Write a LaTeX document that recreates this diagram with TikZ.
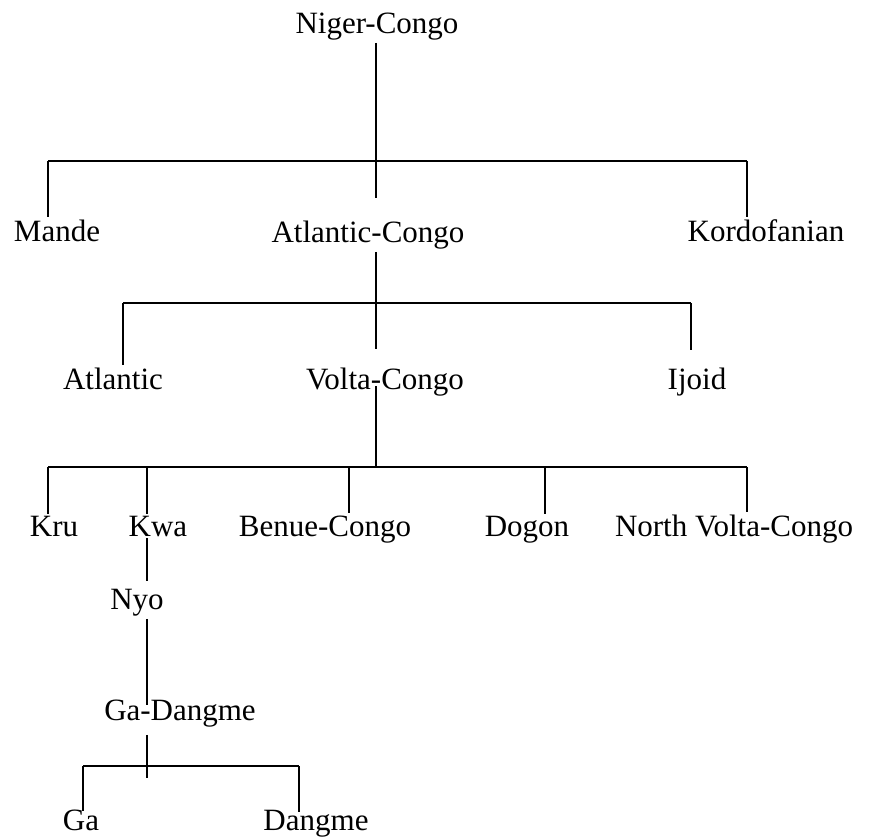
\documentclass[tikz,border=0pt]{standalone}
\usepackage{fontspec}
\setmainfont{Liberation Serif}
\usetikzlibrary{positioning, calc}

\begin{document}
\begin{tikzpicture}[
        x=1pt, y=-1pt,
        lang/.style={inner sep=0pt, anchor=base, font=\fontsize{31}{37}\selectfont},
        branch/.style={draw=black, line width=1.5pt}
    ]
        \useasboundingbox (0,0) rectangle (873,836);

        \node[lang] (niger) at (377,33) {Niger-Congo};

        \node[lang] (mande) at (57,241) {Mande};
        \node[lang] (acongo) at (368,242) {Atlantic-Congo};
        \node[lang] (kordo) at (766,241) {Kordofanian};

        \node[lang] (atl) at (113,389) {Atlantic};
        \node[lang] (volta) at (385,389) {Volta-Congo};
        \node[lang] (ijoid) at (697,389) {Ijoid};

        \node[lang] (kru) at (54,536) {Kru};
        \node[lang] (kwa) at (158,536) {Kwa};
        \node[lang] (benue) at (325,536) {Benue-Congo};
        \node[lang] (dogon) at (527,536) {Dogon};
        \node[lang] (nvc) at (734,536) {North Volta-Congo};

        \node[lang] (nyo) at (137,609) {Nyo};
        \node[lang] (gad) at (180,720) {Ga-Dangme};

        \node[lang] (ga) at (81,830) {Ga};
        \node[lang] (dangme) at (316,830) {Dangme};

        \coordinate (b1) at (376,161);
        \coordinate (b1l) at (48,161);
        \coordinate (b1r) at (747,161);
        \draw[branch] (b1l) -- (b1r);
        \draw[branch] ($(niger.south -| b1)+(0,3)$) -- ($(acongo.north -| b1)+(0,-22)$);
        \draw[branch] (b1l) -- ($(mande.north -| b1l)+(0,-2)$);
        \draw[branch] (b1r) -- ($(kordo.north -| b1r)+(0,-2)$);

        \coordinate (b2) at (376,303);
        \coordinate (b2l) at (123,303);
        \coordinate (b2r) at (691,303);
        \draw[branch] (b2l) -- (b2r);
        \draw[branch] ($(acongo.south -| b2)+(0,3)$) -- ($(volta.north -| b2)+(0,-18)$);
        \draw[branch] (b2l) -- ($(atl.north -| b2l)+(0,-2)$);
        \draw[branch] (b2r) -- ($(ijoid.north -| b2r)+(0,-17)$);

        \coordinate (b3) at (376,467);
        \coordinate (b3l) at (48,467);
        \coordinate (b3r) at (747,467);
        \draw[branch] (b3l) -- (b3r);
        \draw[branch] ($(volta.base -| b3)+(0,-3)$) -- (b3);
        \foreach \n/\x in {kru/48, kwa/147, benue/349, dogon/545, nvc/747}
            \draw[branch] (\x,467) coordinate (top) -- ($(\n.north -| top)+(0,-2)$);

        \coordinate (b4) at (147,766);
        \coordinate (b4l) at (83,766);
        \coordinate (b4r) at (299,766);
        \draw[branch] ($(kwa.base -| b4)+(0,2)$) -- ($(nyo.north -| b4)+(0,-8)$);
        \draw[branch] ($(nyo.south -| b4)+(0,3)$) -- ($(gad.north -| b4)+(0,6)$);
        \draw[branch] ($(gad.south -| b4)+(0,8)$) -- ($(b4)+(0,12)$);
        \draw[branch] (b4l) -- (b4r);
        \draw[branch] (b4l) -- ($(ga.north -| b4l)+(0,2)$);
        \draw[branch] (b4r) -- ($(dangme.north -| b4r)+(0,2)$);
    \end{tikzpicture}
\end{document}
